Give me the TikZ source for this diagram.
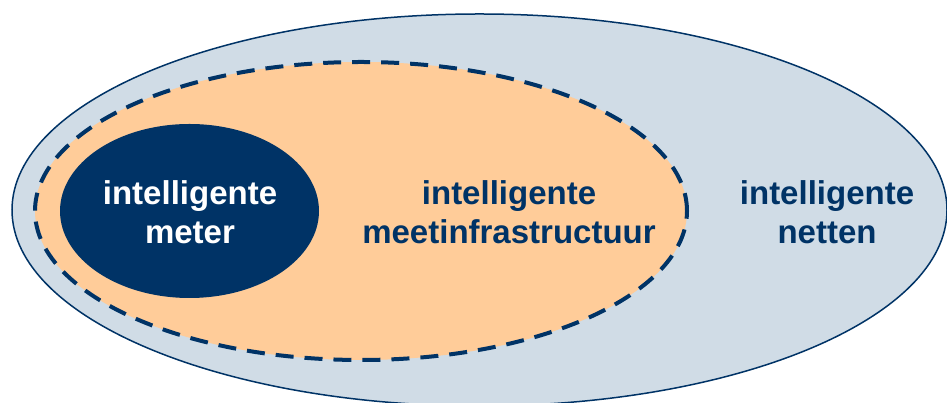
\documentclass[tikz,border=0pt]{standalone}
\usepackage{fontspec}
\setmainfont{Liberation Sans}
\usetikzlibrary{shapes.geometric}
\definecolor{navy}{RGB}{0,51,102}
\definecolor{paleblue}{RGB}{208,220,230}
\definecolor{peach}{RGB}{255,204,153}
\begin{document}
\begin{tikzpicture}[x=1pt,y=1pt,
  oval/.style={ellipse,inner sep=0pt},
  lbl/.style={align=center,font=\fontsize{33}{39}\selectfont\bfseries,inner sep=0pt}]
\useasboundingbox (0,0) rectangle (947,403);
\node[oval,fill=paleblue,draw=navy,line width=1.5pt,minimum width=935pt,minimum height=392pt] (outer) at (479.5,193) {};
\node[oval,fill=peach,draw=navy,line width=4pt,dash pattern=on 18pt off 11pt,minimum width=652pt,minimum height=298pt] (mid) at (361,192) {};
\node[oval,fill=navy,minimum width=259pt,minimum height=174pt] (inner) at (189.5,192) {};
\node[lbl,text=white] (t1) at (190,191) {intelligente\\meter};
\node[lbl,text=navy] (t2) at (509,191) {intelligente\\meetinfrastructuur};
\node[lbl,text=navy] (t3) at (827,191) {intelligente\\netten};
\end{tikzpicture}
\end{document}
